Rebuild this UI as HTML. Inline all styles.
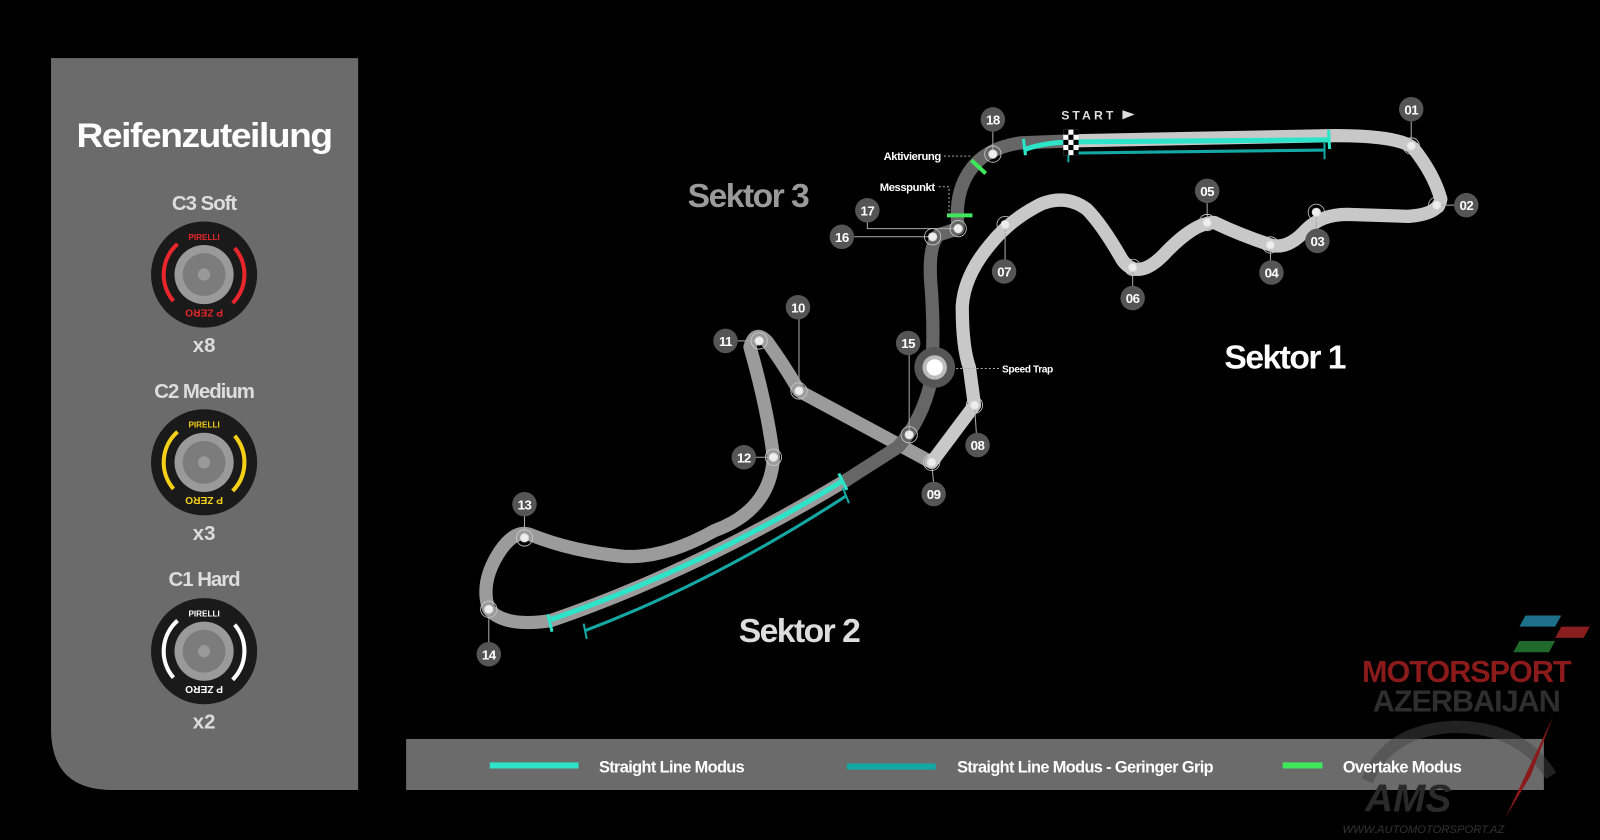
<!DOCTYPE html>
<html><head><meta charset="utf-8"><style>
html,body{margin:0;padding:0;background:#000;width:1600px;height:840px;overflow:hidden}
svg{display:block}
text{font-family:"Liberation Sans",sans-serif}
</style></head><body>
<svg width="1600" height="840" viewBox="0 0 1568 823" preserveAspectRatio="none" xmlns="http://www.w3.org/2000/svg">
<rect width="1568" height="823" fill="#000"/>
<!-- left panel -->
<path d="M50 57 H351 V774 H110 Q50 774 50 714 Z" fill="#6b6b6b"/>
<text x="200" y="144" text-anchor="middle" font-size="34" font-weight="bold" fill="#fff" letter-spacing="-1.3" textLength="250" lengthAdjust="spacingAndGlyphs">Reifenzuteilung</text>
<text x="200" y="206" text-anchor="middle" font-size="20" font-weight="bold" fill="#ddd" letter-spacing="-1">C3 Soft</text>
<text x="200" y="390" text-anchor="middle" font-size="20" font-weight="bold" fill="#ddd" letter-spacing="-1">C2 Medium</text>
<text x="200" y="574" text-anchor="middle" font-size="20" font-weight="bold" fill="#ddd" letter-spacing="-1">C1 Hard</text>
<text x="200" y="345" text-anchor="middle" font-size="20" font-weight="bold" fill="#ddd">x8</text>
<text x="200" y="529" text-anchor="middle" font-size="20" font-weight="bold" fill="#ddd">x3</text>
<text x="200" y="714" text-anchor="middle" font-size="20" font-weight="bold" fill="#ddd">x2</text>
<g transform="translate(200,269)">
<circle r="52" fill="#1a1a1a"/>
<path d="M-26 -30 A40 40 0 0 0 -30 26 M30 -26 A40 40 0 0 1 28 28" stroke="#e8262b" stroke-width="4" fill="none"/>
<text x="0" y="-34" text-anchor="middle" font-size="8" font-weight="bold" fill="#e8262b">PIRELLI</text>
<text x="0" y="42" text-anchor="middle" font-size="10" font-weight="bold" fill="#e8262b" transform="rotate(180 0 38)">P ZERO</text>
<circle r="29" fill="#9a9a9a"/><circle r="21" fill="#7c7c7c"/><circle r="6" fill="#999"/>
</g>
<g transform="translate(200,453)">
<circle r="52" fill="#1a1a1a"/>
<path d="M-26 -30 A40 40 0 0 0 -30 26 M30 -26 A40 40 0 0 1 28 28" stroke="#f5d016" stroke-width="4" fill="none"/>
<text x="0" y="-34" text-anchor="middle" font-size="8" font-weight="bold" fill="#f5d016">PIRELLI</text>
<text x="0" y="42" text-anchor="middle" font-size="10" font-weight="bold" fill="#f5d016" transform="rotate(180 0 38)">P ZERO</text>
<circle r="29" fill="#9a9a9a"/><circle r="21" fill="#7c7c7c"/><circle r="6" fill="#999"/>
</g>
<g transform="translate(200,638)">
<circle r="52" fill="#1a1a1a"/>
<path d="M-26 -30 A40 40 0 0 0 -30 26 M30 -26 A40 40 0 0 1 28 28" stroke="#fff" stroke-width="4" fill="none"/>
<text x="0" y="-34" text-anchor="middle" font-size="8" font-weight="bold" fill="#fff">PIRELLI</text>
<text x="0" y="42" text-anchor="middle" font-size="10" font-weight="bold" fill="#fff" transform="rotate(180 0 38)">P ZERO</text>
<circle r="29" fill="#9a9a9a"/><circle r="21" fill="#7c7c7c"/><circle r="6" fill="#999"/>
</g>

<!-- legend bar -->
<rect x="398" y="724" width="1115" height="50" fill="#6b6b6b"/>
<!-- watermark (behind legend text) -->
<g>
<path d="M1495 603 H1530 L1524 614 H1489 Z" fill="#1d6f8a"/>
<path d="M1530 614 H1558 L1552 625 H1524 Z" fill="#8a1d1d"/>
<path d="M1489 628 H1524 L1518 639 H1483 Z" fill="#1f6a2a"/>
<text x="1437" y="668" text-anchor="middle" font-size="30" font-weight="bold" fill="#8b1a1a" letter-spacing="-1">MOTORSPORT</text>
<text x="1437" y="697" text-anchor="middle" font-size="30" font-weight="bold" fill="#2e2e2e" letter-spacing="-1">AZERBAIJAN</text>
<path d="M1340 765 Q1360 715 1425 712 Q1490 712 1520 760" stroke="#444" stroke-opacity="0.5" stroke-width="12" fill="none"/>
<text x="1380" y="795" text-anchor="middle" font-size="38" font-weight="bold" font-style="italic" fill="#2a2a2a">AMS</text>
<path d="M1522 702 L1490 770 L1476 800 L1500 760 Z" fill="#8b1a1a"/>
<text x="1395" y="816" text-anchor="middle" font-size="11" font-style="italic" fill="#333">WWW.AUTOMOTORSPORT.AZ</text>
</g>
<line x1="480" y1="750" x2="567" y2="750" stroke="#2de3c8" stroke-width="6"/>
<text x="587" y="757" font-size="16" font-weight="bold" fill="#fff" letter-spacing="-0.6">Straight Line Modus</text>
<line x1="830" y1="751" x2="917" y2="751" stroke="#14a8a4" stroke-width="6"/>
<text x="938" y="757" font-size="16" font-weight="bold" fill="#fff" letter-spacing="-0.6">Straight Line Modus - Geringer Grip</text>
<line x1="1257" y1="750" x2="1296" y2="750" stroke="#3ee85a" stroke-width="6"/>
<text x="1316" y="757" font-size="16" font-weight="bold" fill="#fff" letter-spacing="-0.6">Overtake Modus</text>

<!-- track -->
<g fill="none" stroke-linecap="round" stroke-linejoin="round" stroke-width="13">
<path d="M913 453 L783 383 Q770 360 752 335 Q740 322 735 340 Q752 400 758 448 Q755 500 700 520 Q650 548 610 545 Q560 540 520 524 Q505 518 490 540 Q470 570 479 597 Q495 615 540 608 Q680 560 830 470" stroke="#9b9b9b"/>
<path d="M830 470 L880 438 Q905 410 913 370 Q916 320 912 275 Q910 240 920 230 L939 224 Q935 190 950 168 Q965 145 1000 140 L1050 138" stroke="#666"/>
<path d="M1050 138 L1300 133 Q1370 132 1385 145 Q1405 170 1412 195 Q1410 210 1380 212 L1320 210 Q1295 210 1280 225 Q1262 245 1245 240 Q1215 230 1190 218 Q1170 218 1140 250 Q1115 275 1100 255 Q1080 220 1065 205 Q1045 190 1020 200 Q990 215 970 240 Q945 270 943 300 Q943 340 950 360 L955 397 L913 453" stroke="#c8c8c8"/>
</g>
<g fill="none" stroke-width="5">
<path d="M1003 147 Q1020 140 1050 139 L1302 137" stroke="#2de3c8"/>
<path d="M1048 150 L1298 147" stroke="#14a8a4" stroke-width="3"/>
<path d="M540 607 Q690 555 826 471" stroke="#2de3c8"/>
<path d="M573 618 Q700 570 829 486" stroke="#14a8a4" stroke-width="3"/>
</g>
<g stroke-width="3" stroke="#2de3c8">
<line x1="1003" y1="136" x2="1005" y2="152"/><line x1="1302" y1="127" x2="1303" y2="146"/>
<line x1="537" y1="602" x2="541" y2="619"/><line x1="822" y1="464" x2="830" y2="480"/>
</g>
<g stroke-width="2" stroke="#14a8a4">
<line x1="1047" y1="148" x2="1047" y2="159"/><line x1="1298" y1="140" x2="1298" y2="156"/>
<line x1="572" y1="611" x2="575" y2="626"/><line x1="826" y1="478" x2="832" y2="493"/>
</g>
<line x1="952" y1="157" x2="966" y2="170" stroke="#3ee85a" stroke-width="4"/>
<line x1="928" y1="211" x2="953" y2="211" stroke="#3ee85a" stroke-width="4"/>
<g>
<rect x="1042" y="127" width="15" height="25" fill="#fff"/>
<g fill="#000"><rect x="1042" y="127" width="5" height="5"/><rect x="1052" y="127" width="5" height="5"/><rect x="1047" y="132" width="5" height="5"/><rect x="1042" y="137" width="5" height="5"/><rect x="1052" y="137" width="5" height="5"/><rect x="1047" y="142" width="5" height="5"/><rect x="1042" y="147" width="5" height="5"/><rect x="1052" y="147" width="5" height="5"/></g>
</g>
<text x="1040" y="117" font-size="12" font-weight="bold" fill="#ddd" letter-spacing="3">START</text>
<path d="M1100 108 L1112 112 L1100 117 Z" fill="#ddd"/>

<g stroke="#aaa" stroke-width="1" fill="none">
<path d="M925 153 H952" stroke-dasharray="2 2"/>
<path d="M920 183 H930 V211" stroke-dasharray="2 2"/>
<path d="M850 216 V224 H939"/>
<path d="M837 232 H914"/>
<path d="M925 361 H980" stroke-dasharray="2 2"/>
<line x1="973" y1="125" x2="973" y2="151"/>
<line x1="1383" y1="118" x2="1383" y2="143"/>
<line x1="1408" y1="201" x2="1425" y2="201"/>
<line x1="1290" y1="208" x2="1290" y2="228"/>
<line x1="1245" y1="240" x2="1245" y2="258"/>
<line x1="1183" y1="197" x2="1183" y2="218"/>
<line x1="1110" y1="262" x2="1110" y2="283"/>
<line x1="985" y1="220" x2="985" y2="258"/>
<line x1="955" y1="397" x2="957" y2="427"/>
<line x1="913" y1="453" x2="915" y2="474"/>
<line x1="783" y1="312" x2="783" y2="383"/>
<line x1="722" y1="334" x2="744" y2="334"/>
<line x1="740" y1="448" x2="758" y2="448"/>
<line x1="891" y1="347" x2="891" y2="426"/>
<line x1="514" y1="505" x2="514" y2="527"/>
<line x1="479" y1="597" x2="479" y2="630"/>
</g>
<g fill="#eee" stroke="#ddd" stroke-width="1">
<circle cx="973" cy="151" r="4"/><circle cx="1383" cy="143" r="4"/><circle cx="1408" cy="201" r="4"/><circle cx="1290" cy="208" r="4"/><circle cx="1245" cy="240" r="4"/><circle cx="1183" cy="218" r="4"/><circle cx="1110" cy="262" r="4"/><circle cx="985" cy="220" r="4"/><circle cx="955" cy="397" r="4"/><circle cx="913" cy="453" r="4"/><circle cx="783" cy="383" r="4"/><circle cx="744" cy="334" r="4"/><circle cx="758" cy="448" r="4"/><circle cx="514" cy="527" r="4"/><circle cx="479" cy="597" r="4"/><circle cx="891" cy="426" r="4"/><circle cx="914" cy="232" r="4"/><circle cx="939" cy="224" r="4"/>
</g>
<g fill="none" stroke="#ccc" stroke-width="0.8">
<circle cx="973" cy="151" r="8"/><circle cx="1383" cy="143" r="8"/><circle cx="1408" cy="201" r="8"/><circle cx="1290" cy="208" r="8"/><circle cx="1245" cy="240" r="8"/><circle cx="1183" cy="218" r="8"/><circle cx="1110" cy="262" r="8"/><circle cx="985" cy="220" r="8"/><circle cx="955" cy="397" r="8"/><circle cx="913" cy="453" r="8"/><circle cx="783" cy="383" r="8"/><circle cx="744" cy="334" r="8"/><circle cx="758" cy="448" r="8"/><circle cx="514" cy="527" r="8"/><circle cx="479" cy="597" r="8"/><circle cx="891" cy="426" r="8"/><circle cx="914" cy="232" r="8"/><circle cx="939" cy="224" r="8"/>
</g>
<circle cx="916" cy="360" r="20" fill="#555"/><circle cx="916" cy="360" r="12" fill="#bbb"/><circle cx="916" cy="360" r="8" fill="#fff"/>
<text x="982" y="365" font-size="10" font-weight="bold" fill="#fff" letter-spacing="-0.4">Speed Trap</text>
<text x="922" y="157" text-anchor="end" font-size="11" font-weight="bold" fill="#fff" letter-spacing="-0.4">Aktivierung</text>
<text x="916" y="187" text-anchor="end" font-size="11" font-weight="bold" fill="#fff" letter-spacing="-0.4">Messpunkt</text>

<g fill="#555">
<circle cx="973" cy="117" r="12"/><circle cx="1383" cy="107" r="12"/><circle cx="1437" cy="201" r="12"/><circle cx="1291" cy="236" r="12"/><circle cx="1246" cy="267" r="12"/><circle cx="1183" cy="187" r="12"/><circle cx="1110" cy="292" r="12"/><circle cx="984" cy="266" r="12"/><circle cx="958" cy="436" r="12"/><circle cx="915" cy="484" r="12"/><circle cx="782" cy="301" r="12"/><circle cx="711" cy="334" r="12"/><circle cx="729" cy="448" r="12"/><circle cx="514" cy="494" r="12"/><circle cx="479" cy="641" r="12"/><circle cx="890" cy="336" r="12"/><circle cx="825" cy="232" r="12"/><circle cx="850" cy="206" r="12"/>
</g>
<g fill="#fff" font-size="13" font-weight="bold" text-anchor="middle" letter-spacing="-0.5">
<text x="973" y="122">18</text><text x="1383" y="112">01</text><text x="1437" y="206">02</text><text x="1291" y="241">03</text><text x="1246" y="272">04</text><text x="1183" y="192">05</text><text x="1110" y="297">06</text><text x="984" y="271">07</text><text x="958" y="441">08</text><text x="915" y="489">09</text><text x="782" y="306">10</text><text x="711" y="339">11</text><text x="729" y="453">12</text><text x="514" y="499">13</text><text x="479" y="646">14</text><text x="890" y="341">15</text><text x="825" y="237">16</text><text x="850" y="211">17</text>
</g>

<text x="733" y="203" text-anchor="middle" font-size="33" font-weight="bold" fill="#9a9a9a" letter-spacing="-1.5">Sektor 3</text>
<text x="1259" y="361" text-anchor="middle" font-size="33" font-weight="bold" fill="#fff" letter-spacing="-1.5">Sektor 1</text>
<text x="783" y="629" text-anchor="middle" font-size="33" font-weight="bold" fill="#ddd" letter-spacing="-1.5">Sektor 2</text>
</svg>
</body></html>
